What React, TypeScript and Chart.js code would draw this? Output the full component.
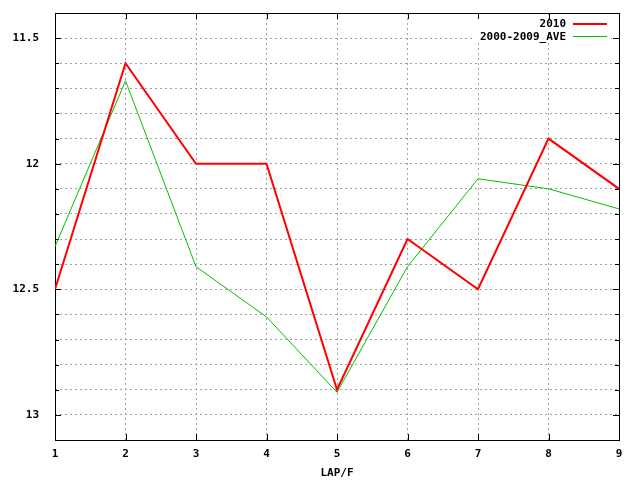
import React, { useEffect, useRef } from "react";
import { Chart, registerables } from "chart.js";

Chart.register(...registerables);

const laps = [1, 2, 3, 4, 5, 6, 7, 8, 9];
const series2010 = [12.5, 11.6, 12.0, 12.0, 12.9, 12.3, 12.5, 11.9, 12.1];
const seriesAve = [12.33, 11.67, 12.41, 12.61, 12.91, 12.41, 12.06, 12.1, 12.18];
const label2010 = "2010";
const labelAve = "2000-2009_AVE";
const xTitle = "LAP/F";

const FONT = "'DejaVu Sans Mono', 'Liberation Mono', monospace";
const FSIZE = 11;

const framePlugin = {
  id: "gnuFrame",
  beforeDatasetsDraw(chart: any) {
    const { ctx, chartArea } = chart;
    const { left, right, top, bottom } = chartArea;
    const xs = chart.scales.x;
    const ys = chart.scales.y;
    ctx.save();
    // opaque key box clears the grid beneath it
    ctx.fillStyle = "#fff";
    ctx.fillRect(473, 19, 138, 23);
    ctx.strokeStyle = "#000";
    ctx.lineWidth = 1;
    ctx.setLineDash([]);
    ctx.beginPath();
    ys.ticks.forEach((t: any) => {
      const v = t.value;
      const major = Math.abs(v * 2 - Math.round(v * 2)) < 1e-6;
      const len = major ? 6 : 4;
      const y = Math.round(ys.getPixelForValue(v)) + 0.5;
      ctx.moveTo(left, y);
      ctx.lineTo(left + len, y);
      ctx.moveTo(right, y);
      ctx.lineTo(right - len, y);
    });
    xs.ticks.forEach((t: any) => {
      const x = Math.round(xs.getPixelForValue(t.value)) + 0.5;
      ctx.moveTo(x, bottom);
      ctx.lineTo(x, bottom - 6);
      ctx.moveTo(x, top);
      ctx.lineTo(x, top + 6);
    });
    ctx.stroke();
    ctx.strokeRect(Math.round(left) + 0.5, Math.round(top) + 0.5, Math.round(right - left), Math.round(bottom - top));
    ctx.restore();
  },
  afterDraw(chart: any) {
    const { ctx } = chart;
    ctx.save();
    ctx.setLineDash([]);
    ctx.font = "bold " + FSIZE + "px " + FONT;
    ctx.textAlign = "right";
    ctx.textBaseline = "middle";
    chart.data.datasets.forEach((d: any, i: number) => {
      const y = 24 + i * 13;
      ctx.fillStyle = "#000";
      ctx.fillText(d.label, 566, y);
      ctx.setLineDash([]);
      ctx.strokeStyle = d.borderColor;
      ctx.lineWidth = d.borderWidth;
      ctx.beginPath();
      const yy = d.borderWidth % 2 === 1 ? Math.round(y) - 0.5 : Math.round(y);
      ctx.moveTo(573, yy);
      ctx.lineTo(607, yy);
      ctx.stroke();
    });
    ctx.restore();
  },
};

export default function App() {
  const ref = useRef<HTMLCanvasElement>(null);
  useEffect(() => {
    if (!ref.current) return;
    const tickFont = { family: FONT, size: FSIZE, weight: "bold" };
    const chart = new Chart(ref.current, {
      type: "line",
      data: {
        datasets: [
          {
            label: label2010,
            data: laps.map((x, i) => ({ x, y: series2010[i] })),
            borderColor: "#ff0000",
            borderWidth: 2,
            pointRadius: 0,
            tension: 0,
            fill: false,
          },
          {
            label: labelAve,
            data: laps.map((x, i) => ({ x, y: seriesAve[i] })),
            borderColor: "#00c000",
            borderWidth: 1,
            pointRadius: 0,
            tension: 0,
            fill: false,
          },
        ],
      },
      options: {
        responsive: false,
        animation: false,
        layout: { padding: { left: 0, right: 21, top: 13, bottom: 0 } },
        plugins: { legend: { display: false }, tooltip: { enabled: false } },
        scales: {
          x: {
            type: "linear",
            min: 1,
            max: 9,
            afterFit: (s: any) => {
              s.height = 40;
              s.paddingLeft = 0;
              s.paddingRight = 0;
            },
            border: { display: false, dash: [2, 3] },
            grid: { color: "#a0a0a0", drawTicks: false },
            ticks: { stepSize: 1, padding: 8, color: "#000", font: tickFont },
            title: {
              display: true,
              text: xTitle,
              color: "#000",
              font: tickFont,
              padding: { top: 0, bottom: 0 },
            },
          },
          y: {
            type: "linear",
            reverse: true,
            min: 11.4,
            max: 13.1,
            afterFit: (s: any) => {
              s.width = 55;
              s.paddingTop = 0;
              s.paddingBottom = 0;
            },
            border: { display: false, dash: [2, 3] },
            grid: { color: "#a0a0a0", drawTicks: false },
            ticks: {
              stepSize: 0.1,
              autoSkip: false,
              padding: 16,
              color: "#000",
              font: tickFont,
              callback: (v: any) => {
                const n = Number(v);
                if (Math.abs(n * 2 - Math.round(n * 2)) < 1e-6) {
                  return String(Math.round(n * 10) / 10);
                }
                return "";
              },
            },
          },
        },
      } as any,
      plugins: [framePlugin],
    });
    return () => chart.destroy();
  }, []);
  return (
    <canvas
      ref={ref}
      width={640}
      height={480}
      style={{ position: "absolute", left: 0, top: 0, display: "block" }}
    />
  );
}
